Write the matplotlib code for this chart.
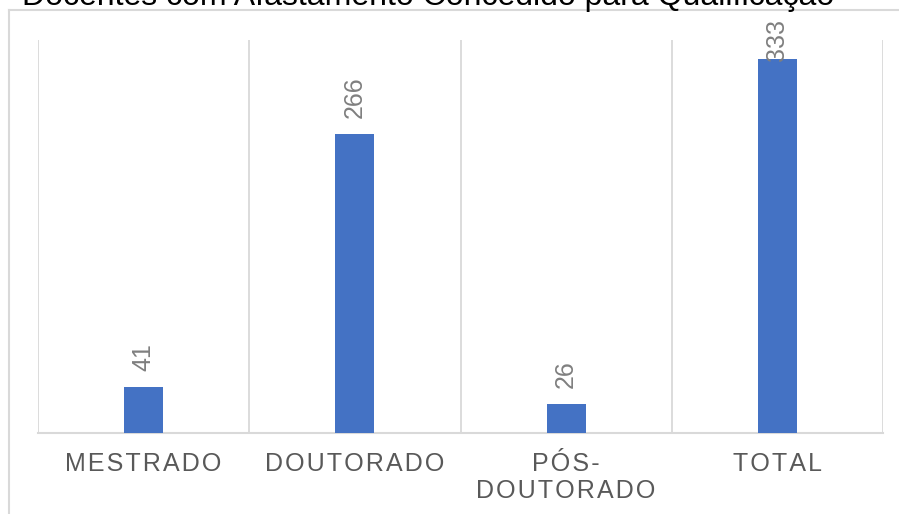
import matplotlib
matplotlib.use("Agg")
import matplotlib.pyplot as plt
from matplotlib.lines import Line2D

categories = ["MESTRADO", "DOUTORADO", "PÓS-DOUTORADO", "TOTAL"]
values = [41, 266, 26, 333]
title = "Docentes com Afastamento Concedido para Qualificação"

plt.rcParams['font.family'] = ['Liberation Sans', 'DejaVu Sans']

W, H = 899, 514
fig = plt.figure(figsize=(W / 100, H / 100), dpi=100)
ax = fig.add_axes([38 / W, (H - 433) / H, (883 - 38) / W, (433 - 40) / H])

bar_color = "#4472C4"
grid_color = "#d9d9d9"
x = list(range(len(categories)))
ax.bar(x, values, width=0.185, color=bar_color, zorder=3)
ax.set_xlim(-0.5, len(categories) - 0.5)
ax.set_ylim(0, 350)

for s in ["top", "left", "right"]:
    ax.spines[s].set_visible(False)
ax.spines["bottom"].set_color(grid_color)
ax.spines["bottom"].set_linewidth(1.5)
ax.set_yticks([])
for b in range(len(categories) + 1):
    ax.axvline(b - 0.5, color=grid_color, lw=1.3, zorder=1)

HAIR = "\u200a"
def spaced(lbl):
    lines = lbl.replace("-", "-\n").split("\n")
    return "\n".join(HAIR.join(list(l)) for l in lines)

ax.set_xticks(x)
ax.set_xticklabels([spaced(c) for c in categories], fontsize=18, color="#595959",
                   linespacing=1.15, va="top")
ax.tick_params(axis="x", length=0, pad=14)

# data labels
texts = []
for i, v in enumerate(values):
    t = ax.annotate(str(v), (i, v), xytext=(0, 11.5), textcoords="offset points",
                    rotation=90, ha="center", va="bottom", fontsize=18, color="#7f7f7f",
                    annotation_clip=False)
    texts.append(t)
fig.canvas.draw()
r = fig.canvas.get_renderer()
for t, v, i in zip(texts, values, x):
    bb = t.get_window_extent(r)
    limit = H - 19
    if bb.y1 > limit:
        shift = (bb.y1 - limit) * 72 / 100
        t.set_position((0, 11.5 - shift))

# title (clipped at the top of the image)
fig.text(22 / W, 1 - 5 / H, title, fontsize=23, color="#000000", ha="left", va="baseline")

# outer chart border
fig.add_artist(Line2D([8.5 / W, 8.5 / W], [0, 1 - 10 / H], color=grid_color, lw=1.5))
fig.add_artist(Line2D([8.5 / W, 1], [1 - 10 / H, 1 - 10 / H], color=grid_color, lw=1.5))

fig.savefig("out.png", dpi=100)
